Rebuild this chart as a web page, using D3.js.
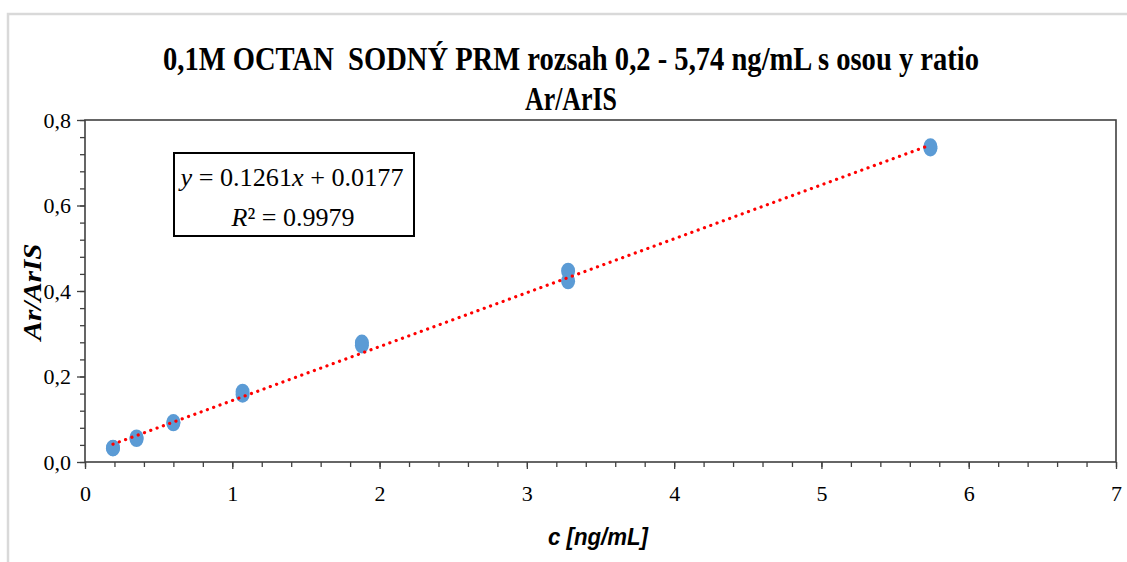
<!DOCTYPE html>
<html>
<head>
<meta charset="utf-8">
<script src="https://cdn.jsdelivr.net/npm/d3@7"></script>
<style>
    body { margin: 0; background: #fff; }
    #chart { width: 1127px; height: 562px; }
    text { font-family: "Liberation Serif", "Times New Roman", Times, serif; }
</style>
</head>
<body>
<div id="chart"></div>
<script>
/* * * * * * * * * * * * * *
*     calibration data     *
* * * * * * * * * * * * * */

// concentration [ng/mL] and measured ratio Ar/ArIS (two injections per level)
let concValues = [0.19, 0.19, 0.35, 0.35, 0.6, 0.6, 1.07, 1.07, 1.88, 1.88, 3.28, 3.28, 5.74, 5.74];
let ratioValues = [0.032, 0.033, 0.054, 0.057, 0.091, 0.093, 0.158, 0.164, 0.273, 0.279, 0.423, 0.447, 0.734, 0.738];

// linear trendline shown in the chart
let trendSlope = 0.1261;
let trendIntercept = 0.0177;
let trendR2 = 0.9979;

// axis ticks
let xTicks = [0, 1, 2, 3, 4, 5, 6, 7];
let yTicks = [0, 0.2, 0.4, 0.6, 0.8];

let chartTitle = ["0,1M OCTAN  SODNÝ PRM rozsah 0,2 - 5,74 ng/mL s osou y ratio", "Ar/ArIS"];
let xTitle = "c [ng/mL]";
let yTitle = "Ar/ArIS";

let serifFont = "'Liberation Serif', 'Times New Roman', Times, serif";
let axisColor = "#404040";
let markerColor = "#5b9bd5";
let trendColor = "#ff0000";

// czech number format (decimal comma)
let csLocale = d3.formatLocale({decimal: ",", thousands: " ", grouping: [3], currency: ["", ""]});


class CalibrationVis {

    constructor(parentElement) {
        this.parentElement = parentElement;
        this.initVis();
    }

    initVis() {
        let vis = this;

        vis.width = 1127;
        vis.height = 562;

        // plot area edges
        vis.plot = {left: 85, right: 1116, top: 120, bottom: 462};

        vis.svg = d3.select("#" + vis.parentElement).append("svg")
            .attr("width", vis.width)
            .attr("height", vis.height);

        // light chart frame (cut off at right and bottom)
        vis.svg.append("path")
            .attr("d", `M8,${vis.height} L8,14 L${vis.width},14`)
            .attr("fill", "none")
            .attr("stroke", "#d9d9d9")
            .attr("stroke-width", 2.5);

        vis.x = d3.scaleLinear()
            .domain([0, 7])
            .range([vis.plot.left, vis.plot.right]);

        vis.y = d3.scaleLinear()
            .domain([0, 0.8])
            .range([vis.plot.bottom, vis.plot.top]);

        vis.wrangleData();
    }

    wrangleData() {
        let vis = this;

        vis.points = concValues.map((c, i) => ({conc: c, ratio: ratioValues[i]}));

        let xMin = d3.min(concValues);
        let xMax = d3.max(concValues);
        vis.trend = [xMin, xMax].map(c => ({conc: c, ratio: trendSlope * c + trendIntercept}));

        vis.updateVis();
    }

    updateVis() {
        let vis = this;

        // minor + major ticks, x
        vis.svg.append("g")
            .attr("transform", `translate(0, ${vis.plot.bottom})`)
            .call(d3.axisBottom(vis.x).tickValues(d3.range(0, 7.001, 0.2)).tickSize(5).tickFormat(""))
            .call(g => g.select(".domain").remove())
            .call(g => g.selectAll("line").attr("stroke", axisColor).attr("stroke-width", 1.3));

        vis.svg.append("g")
            .attr("transform", `translate(0, ${vis.plot.bottom})`)
            .call(d3.axisBottom(vis.x).tickValues(xTicks).tickSize(7).tickPadding(16).tickFormat(d3.format("d")))
            .call(g => g.select(".domain").remove())
            .call(g => g.selectAll("line").attr("stroke", axisColor).attr("stroke-width", 1.3))
            .call(g => g.selectAll("text")
                .style("font-family", serifFont)
                .style("font-size", "22px")
                .attr("fill", "#000"));

        // minor + major ticks, y
        vis.svg.append("g")
            .attr("transform", `translate(${vis.plot.left}, 0)`)
            .call(d3.axisLeft(vis.y).tickValues(d3.range(0, 0.8001, 0.04)).tickSize(5).tickFormat(""))
            .call(g => g.select(".domain").remove())
            .call(g => g.selectAll("line").attr("stroke", axisColor).attr("stroke-width", 1.3));

        vis.svg.append("g")
            .attr("transform", `translate(${vis.plot.left}, 0)`)
            .call(d3.axisLeft(vis.y).tickValues(yTicks).tickSize(8).tickPadding(6).tickFormat(csLocale.format(".1f")))
            .call(g => g.select(".domain").remove())
            .call(g => g.selectAll("line").attr("stroke", axisColor).attr("stroke-width", 1.3))
            .call(g => g.selectAll("text")
                .style("font-family", serifFont)
                .style("font-size", "22px")
                .attr("fill", "#000"));

        // plot area border
        vis.svg.append("rect")
            .attr("x", vis.x(0))
            .attr("y", vis.y(0.8))
            .attr("width", vis.x(7) - vis.x(0))
            .attr("height", vis.y(0) - vis.y(0.8))
            .attr("fill", "none")
            .attr("stroke", axisColor)
            .attr("stroke-width", 1.6);

        // data markers
        vis.svg.selectAll(".point")
            .data(vis.points)
            .enter()
            .append("ellipse")
            .attr("class", "point")
            .attr("cx", d => vis.x(d.conc))
            .attr("cy", d => vis.y(d.ratio))
            .attr("rx", 7)
            .attr("ry", 8.2)
            .attr("fill", markerColor);

        // trendline (round dotted)
        vis.svg.append("path")
            .datum(vis.trend)
            .attr("d", d3.line().x(d => vis.x(d.conc)).y(d => vis.y(d.ratio)))
            .attr("fill", "none")
            .attr("stroke", trendColor)
            .attr("stroke-width", 3.2)
            .attr("stroke-linecap", "round")
            .attr("stroke-dasharray", "0.1 6.6");

        // equation box
        vis.svg.append("rect")
            .attr("x", 174)
            .attr("y", 153)
            .attr("width", 240)
            .attr("height", 83)
            .attr("fill", "#fff")
            .attr("stroke", "#000")
            .attr("stroke-width", 2);

        let eq1 = vis.svg.append("text")
            .attr("x", 292)
            .attr("y", 186)
            .attr("text-anchor", "middle")
            .style("font-size", "26px")
            .attr("textLength", 223)
            .attr("lengthAdjust", "spacingAndGlyphs");
        eq1.append("tspan").style("font-style", "italic").text("y");
        eq1.append("tspan").text(" = " + trendSlope.toFixed(4));
        eq1.append("tspan").style("font-style", "italic").text("x");
        eq1.append("tspan").text(" + " + trendIntercept.toFixed(4));

        let eq2 = vis.svg.append("text")
            .attr("x", 293)
            .attr("y", 226)
            .attr("text-anchor", "middle")
            .style("font-size", "26px")
            .attr("textLength", 123)
            .attr("lengthAdjust", "spacingAndGlyphs");
        eq2.append("tspan").style("font-style", "italic").text("R");
        eq2.append("tspan").text("² = " + trendR2.toFixed(4));

        // chart title
        vis.svg.selectAll(".chart-title")
            .data(chartTitle)
            .enter()
            .append("text")
            .attr("class", "chart-title")
            .attr("x", 571)
            .attr("y", (d, i) => 70 + i * 40)
            .attr("text-anchor", "middle")
            .style("font-size", "33px")
            .style("font-weight", "bold")
            .style("white-space", "pre")
            .attr("textLength", (d, i) => i === 0 ? 816 : 92)
            .attr("lengthAdjust", "spacingAndGlyphs")
            .text(d => d);

        // axis titles
        vis.svg.append("text")
            .attr("transform", `translate(41, 292) rotate(-90)`)
            .attr("text-anchor", "middle")
            .style("font-size", "26px")
            .style("font-weight", "bold")
            .style("font-style", "italic")
            .attr("textLength", 97)
            .attr("lengthAdjust", "spacingAndGlyphs")
            .text(yTitle);

        vis.svg.append("text")
            .attr("x", 598)
            .attr("y", 545)
            .attr("text-anchor", "middle")
            .style("font-family", "'Liberation Sans Narrow', 'Liberation Sans', Arial, sans-serif")
            .style("font-size", "23px")
            .style("font-weight", "bold")
            .style("font-style", "italic")
            .attr("textLength", 100)
            .attr("lengthAdjust", "spacingAndGlyphs")
            .text(xTitle);
    }
}

let myCalibrationVis = new CalibrationVis("chart");
</script>
</body>
</html>
